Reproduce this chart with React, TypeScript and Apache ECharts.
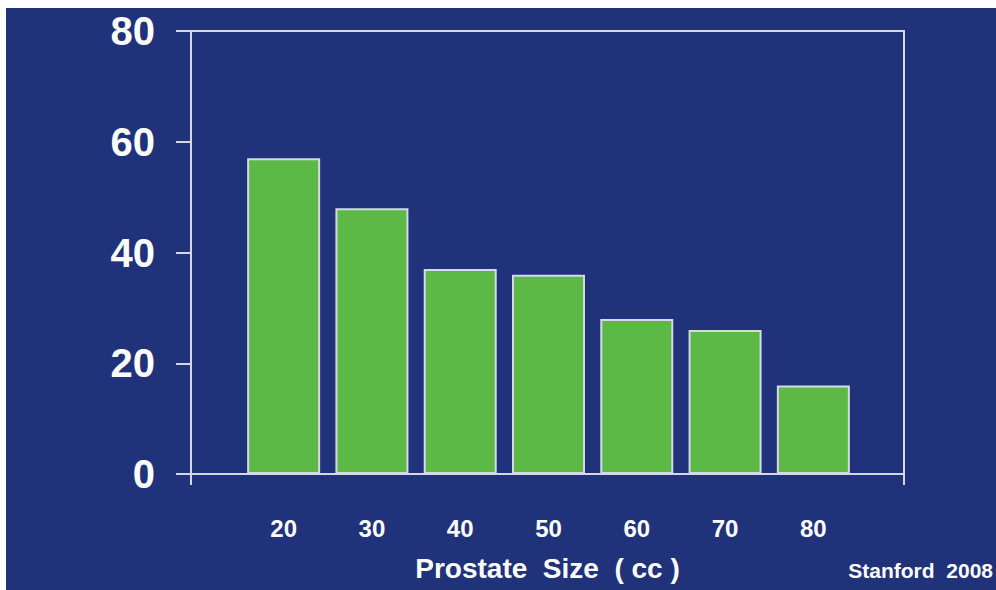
import React, { useEffect, useRef } from "react";
import * as echarts from "echarts";

const categories = ["20", "30", "40", "50", "60", "70", "80"];
const values = [57, 48, 37, 36, 28, 26, 16];
const yTicks = [0, 20, 40, 60, 80];
const xTitle = "Prostate  Size  ( cc )";
const credit = "Stanford  2008";

const BG = "#20327A";
const GREEN = "#5CB946";
const LINE = "#D6D8E8";
const FONT = "'Liberation Sans', Arial, sans-serif";

export default function App() {
  const ref = useRef<HTMLDivElement>(null);
  useEffect(() => {
    if (!ref.current) return;
    const chart = echarts.init(ref.current, undefined, { renderer: "svg" });
    chart.setOption({
      animation: false,
      backgroundColor: "#ffffff",
      graphic: [
        {
          type: "rect",
          z: -10,
          silent: true,
          shape: { x: 6, y: 8, width: 990, height: 582 },
          style: { fill: BG },
        },
        {
          type: "text",
          x: 993,
          y: 570,
          style: {
            text: credit,
            fill: "#ffffff",
            font: `bold 21px ${FONT}`,
            textAlign: "right",
            textVerticalAlign: "middle",
          },
        },
      ],
      grid: [
        {
          left: 191,
          top: 31,
          width: 713,
          height: 443,
          show: true,
          borderColor: LINE,
          borderWidth: 2,
          backgroundColor: "transparent",
        },
        {
          left: 239.5,
          top: 31,
          width: 618,
          height: 443,
        },
      ],
      xAxis: [
        {
          gridIndex: 0,
          type: "value",
          min: 0,
          max: 1,
          interval: 1,
          axisLine: { show: true, lineStyle: { color: LINE, width: 2 } },
          axisTick: { show: true, length: 11, lineStyle: { color: LINE, width: 2 } },
          axisLabel: { show: false },
          splitLine: { show: false },
          name: xTitle,
          nameLocation: "middle",
          nameGap: 80,
          nameTextStyle: {
            color: "#ffffff",
            fontSize: 28,
            fontWeight: "bold",
            fontFamily: FONT,
          },
        },
        {
          gridIndex: 1,
          type: "category",
          data: categories,
          axisLine: { show: false },
          axisTick: { show: false },
          axisLabel: {
            color: "#ffffff",
            fontSize: 24,
            fontWeight: "bold",
            fontFamily: FONT,
            margin: 42,
          },
        },
      ],
      yAxis: [
        {
          gridIndex: 0,
          type: "value",
          min: yTicks[0],
          max: yTicks[yTicks.length - 1],
          interval: yTicks[1] - yTicks[0],
          axisLine: { show: true, lineStyle: { color: LINE, width: 2 } },
          axisTick: { show: true, length: 15, lineStyle: { color: LINE, width: 2 } },
          splitLine: { show: false },
          axisLabel: {
            color: "#ffffff",
            fontSize: 40,
            fontWeight: "bold",
            fontFamily: FONT,
            margin: 36,
          },
        },
        {
          gridIndex: 1,
          type: "value",
          min: yTicks[0],
          max: yTicks[yTicks.length - 1],
          show: false,
          splitLine: { show: false },
        },
      ],
      series: [
        {
          type: "bar",
          xAxisIndex: 1,
          yAxisIndex: 1,
          data: values,
          barWidth: 73,
          itemStyle: { color: GREEN, borderColor: LINE, borderWidth: 2 },
        },
      ],
    });
    return () => chart.dispose();
  }, []);
  return (
    <div
      ref={ref}
      style={{ position: "fixed", left: 0, top: 0, width: 996, height: 590 }}
    />
  );
}
